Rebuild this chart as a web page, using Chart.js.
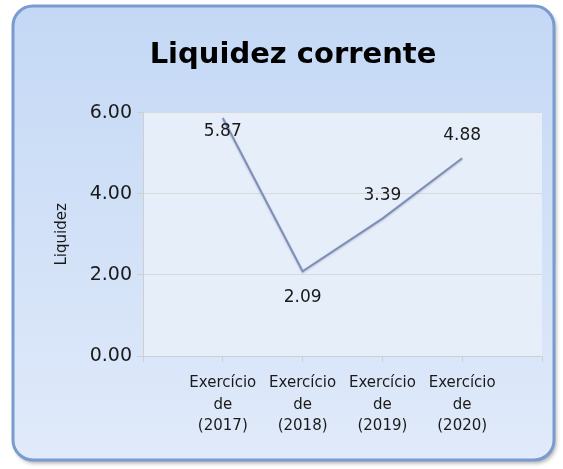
<!DOCTYPE html>
<html>
<head>
<meta charset="utf-8">
<script src="https://cdn.jsdelivr.net/npm/chart.js@4/dist/chart.umd.min.js"></script>
<style>
html,body{margin:0;padding:0;background:#ffffff;}
canvas{display:block;}
</style>
</head>
<body>
<canvas id="c" width="563" height="469"></canvas>
<script>
// ---- data ----
const chartTitle = 'Liquidez corrente';
const yAxisTitle = 'Liquidez';
const categories = [
  ['Exercício', 'de', '(2017)'],
  ['Exercício', 'de', '(2018)'],
  ['Exercício', 'de', '(2019)'],
  ['Exercício', 'de', '(2020)']
];
const liquidez = [5.87, 2.09, 3.39, 4.88];
const yTicks = [0, 2, 4, 6];

// category axis has an empty slot at each end
const axisLabels = [''].concat(categories, ['']);
const seriesData = [null].concat(liquidez, [null]);

const FONT = 'DejaVu Sans';

const cardPlugin = {
  id: 'card',
  beforeDraw(chart) {
    const ctx = chart.ctx;
    const x = 13, y = 6, w = 541, h = 454, r = 20;
    ctx.save();
    ctx.fillStyle = '#ffffff';
    ctx.fillRect(0, 0, chart.width, chart.height);
    ctx.shadowColor = 'rgba(0,0,0,0.35)';
    ctx.shadowBlur = 4;
    ctx.shadowOffsetX = 2;
    ctx.shadowOffsetY = 3;
    const g = ctx.createLinearGradient(0, y, 0, y + h);
    g.addColorStop(0, '#c4d8f5');
    g.addColorStop(1, '#e0eafa');
    ctx.fillStyle = g;
    ctx.beginPath();
    ctx.roundRect(x, y, w, h, r);
    ctx.fill();
    ctx.shadowColor = 'transparent';
    ctx.lineWidth = 3;
    ctx.strokeStyle = '#7a9bd0';
    ctx.stroke();
    const a = chart.chartArea;
    ctx.fillStyle = '#e6eefa';
    ctx.fillRect(a.left, a.top, a.right - a.left, a.bottom - a.top);
    ctx.restore();
  },
  beforeDatasetsDraw(chart) {
    const ctx = chart.ctx;
    ctx.save();
    ctx.shadowColor = 'rgba(60,60,80,0.25)';
    ctx.shadowBlur = 2;
    ctx.shadowOffsetY = 1;
  },
  afterDatasetsDraw(chart) {
    const ctx = chart.ctx;
    ctx.restore();
    const meta = chart.getDatasetMeta(0);
    const vals = chart.data.datasets[0].data;
    const a = chart.chartArea;
    ctx.save();
    ctx.font = '17px "' + FONT + '"';
    ctx.fillStyle = '#1a1a1a';
    ctx.textAlign = 'center';
    ctx.textBaseline = 'middle';
    meta.data.forEach((pt, i) => {
      const v = vals[i];
      if (v === null || v === undefined) return;
      const prev = vals[i - 1], next = vals[i + 1];
      const isMin = (prev != null && next != null && v < prev && v < next);
      let ty = isMin ? pt.y + 26 : pt.y - 23;
      if (ty < a.top + 19) ty = a.top + 19;
      ctx.fillText(v.toFixed(2), pt.x, ty);
    });
    ctx.restore();
  }
};

new Chart(document.getElementById('c'), {
  type: 'line',
  data: {
    labels: axisLabels,
    datasets: [{
      data: seriesData,
      borderColor: '#7d8fb8',
      borderWidth: 2,
      pointRadius: 0,
      pointHoverRadius: 0,
      tension: 0,
      fill: false,
      spanGaps: false
    }]
  },
  options: {
    responsive: false,
    animation: false,
    devicePixelRatio: 1,
    layout: { padding: { left: 44, right: 21, top: 0, bottom: 0 } },
    plugins: {
      legend: { display: false },
      tooltip: { enabled: false },
      title: {
        display: true,
        text: chartTitle,
        color: '#000000',
        font: { family: FONT, size: 29, weight: 'bold', lineHeight: 1.2 },
        padding: { top: 38, bottom: 40 }
      }
    },
    scales: {
      x: {
        type: 'category',
        offset: false,
        afterFit(scale) { scale.height = 113; },
        grid: {
          drawOnChartArea: false,
          drawTicks: true,
          tickLength: 6,
          tickColor: '#cfcfcf',
          color: '#cfcfcf'
        },
        border: { color: '#cfcfcf', width: 1 },
        ticks: {
          autoSkip: false,
          maxRotation: 0,
          minRotation: 0,
          padding: 10,
          color: '#1a1a1a',
          font: { family: FONT, size: 15, lineHeight: 1.45 }
        }
      },
      y: {
        min: 0,
        max: 6,
        afterFit(scale) { scale.width = 99; },
        afterBuildTicks(scale) { scale.ticks = yTicks.map(v => ({ value: v })); },
        grid: {
          color: '#d9d9d9',
          tickLength: 6,
          tickColor: '#cfcfcf'
        },
        border: { color: '#cfcfcf', width: 1 },
        ticks: {
          padding: 5,
          color: '#1a1a1a',
          font: { family: FONT, size: 19 },
          callback: v => Number(v).toFixed(2)
        },
        title: {
          display: true,
          text: yAxisTitle,
          color: '#1a1a1a',
          font: { family: FONT, size: 15, lineHeight: 1.2 },
          padding: { top: 9, bottom: 0 }
        }
      }
    }
  },
  plugins: [cardPlugin]
});
</script>
</body>
</html>
